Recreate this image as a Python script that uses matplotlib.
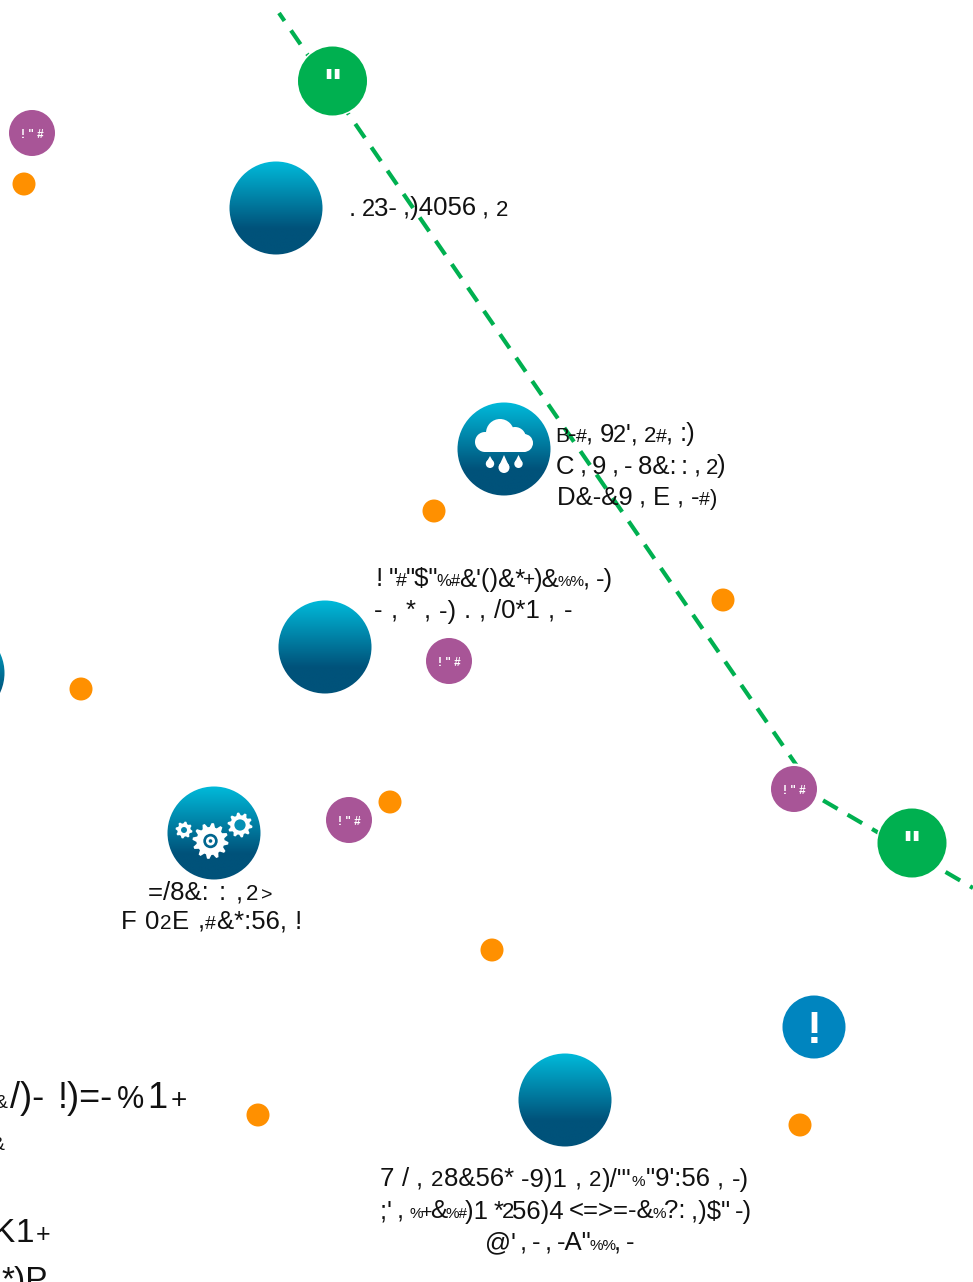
import re
import numpy as np
import matplotlib
matplotlib.use("Agg")
import matplotlib.pyplot as plt
from matplotlib.patches import Circle, Polygon, FancyBboxPatch
from matplotlib.colors import LinearSegmentedColormap
from matplotlib.font_manager import FontProperties

W, H = 973, 1282
plt.rcParams['font.family'] = ['Liberation Sans', 'DejaVu Sans']

orange_x = [24, 434, 723, 81, 390, 492, 258, 800]
orange_y = [184, 511, 600, 689, 802, 950, 1115, 1125]
purple_x = [32, 449, 349, 794]
purple_y = [133, 661, 820, 789]
purple_label = '! " #'
green_x = [332.5, 912]
green_y = [81, 843]
green_label = '"'
blue_x = [814]
blue_y = [1027]
blue_label = '!'
bubble_x = [276, 325, 565, 504, 214, -42]
bubble_y = [208, 647, 1100, 449, 833, 673]
path_x = [279, 819, 973]
path_y = [13, 798, 888]

# text lines: runs of (string, size), left edge, baseline, right edge
labels = [
    ([('. ', 18.5), ('2', 17), ('3- ,)4056 , ', 18.5), ('2', 16)], 349, 215.5, 508),
    ([('B', 15), ('-', 18.5), ('#', 14), (', 9', 18.5), ('2', 17), ("', ", 18.5), ('2', 16), ('#', 14), (', :)', 18.5)], 555, 441.5, 695),
    ([('C , 9 , - 8&: : , ', 18.5), ('2', 16), (')', 18.5)], 556, 473.5, 725),
    ([('D&-&9 , E , -', 18.5), ('#', 14), (')', 16)], 557, 505, 717),
    ([('! "', 18.5), ('#', 14), ('"$"', 18.5), ('%#', 12), ("&'()&*", 18.5), ('+', 15), (')&', 18.5), ('%%', 11), (', -)', 18.5)], 376, 586.5, 613),
    ([('- , * , -) . , /0*1 , -', 18.5)], 374, 618.5, 572),
    ([('=/8&: : ,', 18.5), ('2', 16), ('>', 14)], 148, 900, 273),
    ([('F ', 18.5), ('0', 18.5), ('2', 15), ('E ,', 18.5), ('#', 14), ('&*:56, !', 18.5)], 121, 929, 302),
    ([('7 / , ', 18.5), ('2', 16), ('8&56* -9)1 , ', 18.5), ('2', 16), (")/'\"", 18.5), ('%', 11), ("\"9':56 , -)", 18.5)], 380, 1186.5, 749),
    ([(";' , ", 18.5), ('%', 11), ('+', 14), ('&', 18.5), ('%#', 11), (')1 *', 18.5), ('2', 16), ('56)4 <=>=-&', 18.5), ('%', 11), ('?: ,)$" -)', 18.5)], 380, 1218.5, 752),
    ([("@' , - , -A\"", 18.5), ('%%', 11), (', -', 18.5)], 485, 1250.5, 634),
    ([('&', 14), ('/)- !)=-', 26), ('%', 22), ('1', 26), ('+', 20)], -6, 1108, 187),
    ([('&', 14)], -9, 1150, 1),
    ([('K', 24), ('1', 24), ('+', 18)], -8, 1242.5, 50),
    ([('*)P', 24)], 1, 1290, 38),
]

fig = plt.figure(figsize=(W / 100, H / 100), dpi=100)
ax = fig.add_axes([0, 0, 1, 1])

ax.plot(path_x, path_y, color='#00b050', lw=3.0, linestyle=(1.74, (4.05, 2.76)),
        dash_capstyle='butt', dash_joinstyle='miter', zorder=1)

cmap = LinearSegmentedColormap.from_list(
    'b', [(0, '#00bcdc'), (0.72, '#00527a'), (1, '#00527a')])
grad = np.linspace(0, 1, 256).reshape(-1, 1)
R = 46.5
for x, y in zip(bubble_x, bubble_y):
    im = ax.imshow(grad, cmap=cmap, extent=(x - R - 2, x + R + 2, y + R + 1, y - R - 1),
                   aspect='auto', zorder=3, interpolation='bilinear')
    ax.add_patch(Circle((x, y), R + 2, fc='white', ec='none', zorder=2))
    im.set_clip_path(Circle((x, y), R, transform=ax.transData))

for x, y in zip(orange_x, orange_y):
    ax.add_patch(Circle((x, y), 11.5, fc='#ff9000', ec='none', zorder=4))
for x, y in zip(purple_x, purple_y):
    ax.add_patch(Circle((x, y), 25.5, fc='white', ec='none', zorder=3.5))
    ax.add_patch(Circle((x, y), 23, fc='#a85597', ec='none', zorder=4))
    ax.text(x, y + 2, purple_label, color='white', fontsize=8.5, fontweight='bold',
            ha='center', va='center', zorder=5)
for x, y in zip(green_x, green_y):
    ax.add_patch(Circle((x, y), 36, fc='white', ec='none', zorder=3.5))
    ax.add_patch(Circle((x, y), 34.5, fc='#00b050', ec='none', zorder=4))
    ax.text(x - 0.5, y + 15, green_label, color='white', fontsize=28, fontweight='bold',
            ha='center', va='baseline', zorder=5)
for x, y in zip(blue_x, blue_y):
    ax.add_patch(Circle((x, y), 31.5, fc='#0085bf', ec='none', zorder=4))
    ax.text(x, y + 16, blue_label, color='white', fontsize=32, fontweight='bold',
            ha='center', va='baseline', zorder=5)

# cloud icon
cx, cy = bubble_x[3], bubble_y[3]
for dx, dy, r in [(-19, -7, 10), (-4, -16, 14), (11, -11, 11), (20, -6, 9)]:
    ax.add_patch(Circle((cx + dx, cy + dy), r, fc='white', ec='none', zorder=6))
ax.add_patch(FancyBboxPatch((cx - 19, cy - 8), 40, 11, boxstyle='square,pad=0',
                            fc='white', ec='none', zorder=6))
for dx, s, top, bottom in [(-14, 4.2, 7, 19), (0, 5.5, 6, 24), (14.5, 4.2, 6, 19)]:
    ax.add_patch(Circle((cx + dx, cy + bottom - s), s, fc='white', ec='none', zorder=6))
    ax.add_patch(Polygon([(cx + dx - s + .3, cy + bottom - s - 1), (cx + dx + s - .3, cy + bottom - s - 1),
                          (cx + dx, cy + top)], fc='white', ec='none', zorder=6))


# gear icons
def gear(x0, y0, r, teeth, hole, col):
    a = np.linspace(0, 2 * np.pi, teeth * 4, endpoint=False) + np.pi / (teeth * 4)
    rr = np.where(np.arange(teeth * 4) % 4 < 2, r, r * 0.78)
    ax.add_patch(Polygon(np.c_[x0 + rr * np.cos(a), y0 + rr * np.sin(a)],
                         fc='white', ec='none', zorder=6))
    ax.add_patch(Circle((x0, y0), r * hole, fc=col, ec='none', zorder=7))


gx, gy = bubble_x[4], bubble_y[4]
gear(gx - 30, gy - 3, 8.5, 8, 0.35, '#0483a8')
gear(gx - 3.5, gy + 8, 18, 12, 0.40, '#00668f')
ax.add_patch(Circle((gx - 3.5, gy + 8), 4.5, fc='white', ec='none', zorder=8))
ax.add_patch(Circle((gx - 3.5, gy + 8), 1.8, fc='#00668f', ec='none', zorder=9))
gear(gx + 26, gy - 8, 12.5, 10, 0.45, '#0490b4')

rend = fig.canvas.get_renderer()


def width(s, size):
    prop = FontProperties(family='Liberation Sans', size=size)
    a = rend.get_text_width_height_descent('|' + s + '|', prop, False)[0]
    b = rend.get_text_width_height_descent('||', prop, False)[0]
    return a - b


for runs, x0, base, x1 in labels:
    pieces = []
    for s, size in runs:
        for p in re.findall(r'\S+\s*|\s+', s):
            pieces.append((p, size))
    widths = [width(p, size) for p, size in pieces]
    gap = (x1 - x0 - sum(widths)) / max(len(pieces) - 1, 1)
    x = x0
    for (p, size), w in zip(pieces, widths):
        ax.text(x, base, p, fontsize=size, ha='left', va='baseline', color='#111111', zorder=5)
        x += w + gap

ax.set_xlim(0, W)
ax.set_ylim(H, 0)
ax.axis('off')
fig.savefig('out.png', dpi=100)
